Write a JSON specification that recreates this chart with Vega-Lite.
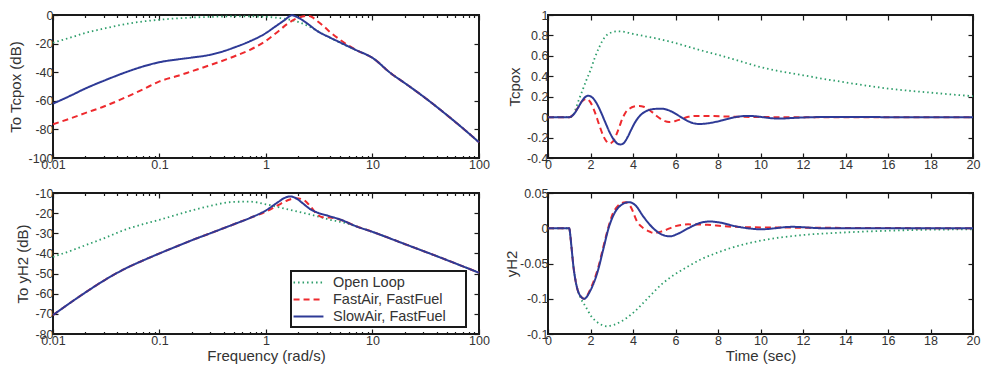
{
"$schema":"https://vega.github.io/schema/vega-lite/v6.json",
"background":"white",
"padding":{"left":7,"top":8,"right":0,"bottom":0},
"config":{
 "locale":{"number":{"decimal":".","thousands":",","grouping":[3],"currency":["$",""],"minus":"-"}},
 "font":"Liberation Sans",
 "view":{"stroke":"#1a1a1a","strokeWidth":2},
 "axis":{"grid":false,"domain":false,"tickColor":"#1a1a1a","tickWidth":1.2,"tickSize":-5,"labelFont":"Liberation Sans","labelFontSize":12.5,"labelColor":"#333","labelPadding":5,"labelFlush":false,"labelOverlap":false,"titleFont":"Liberation Sans","titleFontSize":15,"titleFontWeight":"normal","titleColor":"#333","titlePadding":4}
},
"resolve":{"scale":{"color":"independent","strokeDash":"independent"}},
"columns":2,
"spacing":{"row":35,"column":69},
"bounds":"flush",
"concat":[
{
 "width":426,"height":143,
 "data":{"values":[
{"s":"Open Loop","f":0.01,"y":-19.4},{"s":"Open Loop","f":0.015,"y":-15.5},{"s":"Open Loop","f":0.02,"y":-12.6},{"s":"Open Loop","f":0.03,"y":-9.5},{"s":"Open Loop","f":0.05,"y":-6.1},{"s":"Open Loop","f":0.07,"y":-4.5},{"s":"Open Loop","f":0.1,"y":-3.3},{"s":"Open Loop","f":0.15,"y":-2.3},{"s":"Open Loop","f":0.2,"y":-1.8},{"s":"Open Loop","f":0.3,"y":-1.3},{"s":"Open Loop","f":0.5,"y":-1},{"s":"Open Loop","f":0.7,"y":-1},{"s":"Open Loop","f":1,"y":-1.3},{"s":"Open Loop","f":1.3,"y":-2},{"s":"Open Loop","f":1.6,"y":-3},{"s":"Open Loop","f":2,"y":-4.8},{"s":"Open Loop","f":2.5,"y":-7.8},{"s":"Open Loop","f":3,"y":-11},{"s":"Open Loop","f":4,"y":-16},{"s":"Open Loop","f":5,"y":-19.5},{"s":"Open Loop","f":7,"y":-24.5},{"s":"Open Loop","f":10,"y":-30},{"s":"Open Loop","f":15,"y":-41},{"s":"Open Loop","f":20,"y":-47.5},{"s":"Open Loop","f":30,"y":-57},{"s":"Open Loop","f":50,"y":-70},{"s":"Open Loop","f":70,"y":-79},{"s":"Open Loop","f":100,"y":-89},
{"s":"FastAir, FastFuel","f":0.01,"y":-76.4},{"s":"FastAir, FastFuel","f":0.015,"y":-72},{"s":"FastAir, FastFuel","f":0.02,"y":-68.6},{"s":"FastAir, FastFuel","f":0.03,"y":-64},{"s":"FastAir, FastFuel","f":0.05,"y":-57},{"s":"FastAir, FastFuel","f":0.07,"y":-52},{"s":"FastAir, FastFuel","f":0.1,"y":-46.4},{"s":"FastAir, FastFuel","f":0.15,"y":-42.5},{"s":"FastAir, FastFuel","f":0.2,"y":-39.4},{"s":"FastAir, FastFuel","f":0.3,"y":-35},{"s":"FastAir, FastFuel","f":0.5,"y":-29},{"s":"FastAir, FastFuel","f":0.7,"y":-24.5},{"s":"FastAir, FastFuel","f":1,"y":-18},{"s":"FastAir, FastFuel","f":1.3,"y":-11.5},{"s":"FastAir, FastFuel","f":1.6,"y":-6},{"s":"FastAir, FastFuel","f":1.9,"y":-2.7},{"s":"FastAir, FastFuel","f":2.2,"y":-1.1},{"s":"FastAir, FastFuel","f":2.45,"y":-0.6},{"s":"FastAir, FastFuel","f":2.7,"y":-1.4},{"s":"FastAir, FastFuel","f":3,"y":-4},{"s":"FastAir, FastFuel","f":3.5,"y":-8},{"s":"FastAir, FastFuel","f":4,"y":-12},{"s":"FastAir, FastFuel","f":5,"y":-17.5},{"s":"FastAir, FastFuel","f":7,"y":-24.5},{"s":"FastAir, FastFuel","f":10,"y":-30},{"s":"FastAir, FastFuel","f":15,"y":-41},{"s":"FastAir, FastFuel","f":20,"y":-47.5},{"s":"FastAir, FastFuel","f":30,"y":-57},{"s":"FastAir, FastFuel","f":50,"y":-70},{"s":"FastAir, FastFuel","f":70,"y":-79},{"s":"FastAir, FastFuel","f":100,"y":-89},
{"s":"SlowAir, FastFuel","f":0.01,"y":-62},{"s":"SlowAir, FastFuel","f":0.015,"y":-56},{"s":"SlowAir, FastFuel","f":0.02,"y":-51.5},{"s":"SlowAir, FastFuel","f":0.03,"y":-46},{"s":"SlowAir, FastFuel","f":0.05,"y":-39.6},{"s":"SlowAir, FastFuel","f":0.07,"y":-36},{"s":"SlowAir, FastFuel","f":0.1,"y":-33},{"s":"SlowAir, FastFuel","f":0.15,"y":-31},{"s":"SlowAir, FastFuel","f":0.2,"y":-29.8},{"s":"SlowAir, FastFuel","f":0.3,"y":-27.8},{"s":"SlowAir, FastFuel","f":0.4,"y":-25.3},{"s":"SlowAir, FastFuel","f":0.5,"y":-22.8},{"s":"SlowAir, FastFuel","f":0.7,"y":-18.5},{"s":"SlowAir, FastFuel","f":1,"y":-12.6},{"s":"SlowAir, FastFuel","f":1.2,"y":-8.5},{"s":"SlowAir, FastFuel","f":1.5,"y":-3.5},{"s":"SlowAir, FastFuel","f":1.75,"y":-0.2},{"s":"SlowAir, FastFuel","f":2,"y":-1.8},{"s":"SlowAir, FastFuel","f":2.5,"y":-6.5},{"s":"SlowAir, FastFuel","f":3,"y":-11},{"s":"SlowAir, FastFuel","f":4,"y":-15.8},{"s":"SlowAir, FastFuel","f":5,"y":-19.3},{"s":"SlowAir, FastFuel","f":7,"y":-24.5},{"s":"SlowAir, FastFuel","f":10,"y":-30},{"s":"SlowAir, FastFuel","f":15,"y":-41},{"s":"SlowAir, FastFuel","f":20,"y":-47.5},{"s":"SlowAir, FastFuel","f":30,"y":-57},{"s":"SlowAir, FastFuel","f":50,"y":-70},{"s":"SlowAir, FastFuel","f":70,"y":-79},{"s":"SlowAir, FastFuel","f":100,"y":-89}
 ]},
 "layer":[
  {"transform":[{"filter":"datum.s==='Open Loop'"}],"mark":{"type":"line","strokeWidth":1.8,"interpolate":"monotone"},
   "encoding":{
    "x":{"field":"f","type":"quantitative","scale":{"type":"log","domain":[0.01,100],"nice":false},"axis":{"orient":"bottom","values":[0.01,0.1,1,10,100],"format":"~g","title":null}},
    "y":{"field":"y","type":"quantitative","scale":{"domain":[-100,0],"nice":false,"zero":false},"axis":{"orient":"left","values":[-100,-80,-60,-40,-20,0],"title":"To Tcpox (dB)"}},
    "color":{"field":"s","type":"nominal","scale":{"domain":["Open Loop","FastAir, FastFuel","SlowAir, FastFuel"],"range":["#2e9e6b","#ee2a2e","#2e3a96"]},"legend":null},
    "strokeDash":{"field":"s","type":"nominal","scale":{"domain":["Open Loop","FastAir, FastFuel","SlowAir, FastFuel"],"range":[[1.5,3],[6,4],[1,0]]},"legend":null}}},
  {"transform":[{"filter":"datum.s==='FastAir, FastFuel'"}],"mark":{"type":"line","strokeWidth":2,"interpolate":"monotone"},
   "encoding":{
    "x":{"field":"f","type":"quantitative","axis":{"orient":"top","values":[0.01,0.1,1,10,100],"labels":false,"title":null}},
    "y":{"field":"y","type":"quantitative","axis":{"orient":"right","values":[-100,-80,-60,-40,-20,0],"labels":false,"title":null}},
    "color":{"field":"s","type":"nominal","legend":null},
    "strokeDash":{"field":"s","type":"nominal","legend":null}}},
  {"transform":[{"filter":"datum.s==='SlowAir, FastFuel'"}],"mark":{"type":"line","strokeWidth":2,"interpolate":"monotone"},
   "encoding":{
    "x":{"field":"f","type":"quantitative","axis":{"orient":"bottom","values":[0.02,0.03,0.04,0.05,0.06,0.07,0.08,0.09,0.2,0.3,0.4,0.5,0.6,0.7,0.8,0.9,2,3,4,5,6,7,8,9,20,30,40,50,60,70,80,90],"labels":false,"tickSize":-2.5,"title":null}},
    "y":{"field":"y","type":"quantitative","axis":null},
    "color":{"field":"s","type":"nominal","legend":null},
    "strokeDash":{"field":"s","type":"nominal","legend":null}}},
  {"transform":[{"filter":"datum.s==='Open Loop'"}],"mark":{"type":"line","strokeOpacity":0},
   "encoding":{
    "x":{"field":"f","type":"quantitative","axis":{"orient":"top","values":[0.02,0.03,0.04,0.05,0.06,0.07,0.08,0.09,0.2,0.3,0.4,0.5,0.6,0.7,0.8,0.9,2,3,4,5,6,7,8,9,20,30,40,50,60,70,80,90],"labels":false,"tickSize":-2.5,"title":null}},
    "y":{"field":"y","type":"quantitative","axis":null}}}
 ],
 "resolve":{"axis":{"x":"independent","y":"independent"}}
},
{
 "width":425,"height":143,
 "data":{"values":[
{"s":"Open Loop","t":0,"y":0},{"s":"Open Loop","t":1.1,"y":0},{"s":"Open Loop","t":1.2,"y":0.03},{"s":"Open Loop","t":1.3,"y":0.08},{"s":"Open Loop","t":1.4,"y":0.14},{"s":"Open Loop","t":1.6,"y":0.25},{"s":"Open Loop","t":1.8,"y":0.36},{"s":"Open Loop","t":2.0,"y":0.46},{"s":"Open Loop","t":2.2,"y":0.58},{"s":"Open Loop","t":2.4,"y":0.68},{"s":"Open Loop","t":2.7,"y":0.79},{"s":"Open Loop","t":3.0,"y":0.83},{"s":"Open Loop","t":3.3,"y":0.84},{"s":"Open Loop","t":3.6,"y":0.835},{"s":"Open Loop","t":4,"y":0.815},{"s":"Open Loop","t":5,"y":0.775},{"s":"Open Loop","t":6,"y":0.725},{"s":"Open Loop","t":7,"y":0.665},{"s":"Open Loop","t":8,"y":0.61},{"s":"Open Loop","t":9,"y":0.55},{"s":"Open Loop","t":10,"y":0.49},{"s":"Open Loop","t":12,"y":0.41},{"s":"Open Loop","t":14,"y":0.34},{"s":"Open Loop","t":16,"y":0.28},{"s":"Open Loop","t":18,"y":0.24},{"s":"Open Loop","t":20,"y":0.205},
{"s":"FastAir, FastFuel","t":0,"y":0},{"s":"FastAir, FastFuel","t":1.0,"y":0},{"s":"FastAir, FastFuel","t":1.2,"y":0.026},{"s":"FastAir, FastFuel","t":1.4,"y":0.09},{"s":"FastAir, FastFuel","t":1.6,"y":0.154},{"s":"FastAir, FastFuel","t":1.8,"y":0.18},{"s":"FastAir, FastFuel","t":2.0,"y":0.145},{"s":"FastAir, FastFuel","t":2.2,"y":0.052},{"s":"FastAir, FastFuel","t":2.4,"y":-0.07},{"s":"FastAir, FastFuel","t":2.6,"y":-0.182},{"s":"FastAir, FastFuel","t":2.75,"y":-0.237},{"s":"FastAir, FastFuel","t":2.9,"y":-0.257},{"s":"FastAir, FastFuel","t":3.05,"y":-0.24},{"s":"FastAir, FastFuel","t":3.2,"y":-0.18},{"s":"FastAir, FastFuel","t":3.35,"y":-0.1},{"s":"FastAir, FastFuel","t":3.5,"y":-0.015},{"s":"FastAir, FastFuel","t":3.65,"y":0.045},{"s":"FastAir, FastFuel","t":3.85,"y":0.085},{"s":"FastAir, FastFuel","t":4.05,"y":0.104},{"s":"FastAir, FastFuel","t":4.3,"y":0.11},{"s":"FastAir, FastFuel","t":4.5,"y":0.102},{"s":"FastAir, FastFuel","t":4.7,"y":0.08},{"s":"FastAir, FastFuel","t":4.9,"y":0.049},{"s":"FastAir, FastFuel","t":5.1,"y":0.014},{"s":"FastAir, FastFuel","t":5.3,"y":-0.017},{"s":"FastAir, FastFuel","t":5.5,"y":-0.039},{"s":"FastAir, FastFuel","t":5.7,"y":-0.047},{"s":"FastAir, FastFuel","t":6.0,"y":-0.038},{"s":"FastAir, FastFuel","t":6.3,"y":-0.0175},{"s":"FastAir, FastFuel","t":6.6,"y":0.003},{"s":"FastAir, FastFuel","t":6.9,"y":0.012},{"s":"FastAir, FastFuel","t":7.8,"y":0.01},{"s":"FastAir, FastFuel","t":8.5,"y":0.006},{"s":"FastAir, FastFuel","t":9.5,"y":0.002},{"s":"FastAir, FastFuel","t":11,"y":0},{"s":"FastAir, FastFuel","t":20,"y":0},
{"s":"SlowAir, FastFuel","t":0,"y":0},{"s":"SlowAir, FastFuel","t":1.0,"y":0},{"s":"SlowAir, FastFuel","t":1.2,"y":0.025},{"s":"SlowAir, FastFuel","t":1.4,"y":0.087},{"s":"SlowAir, FastFuel","t":1.6,"y":0.158},{"s":"SlowAir, FastFuel","t":1.75,"y":0.196},{"s":"SlowAir, FastFuel","t":1.9,"y":0.21},{"s":"SlowAir, FastFuel","t":2.1,"y":0.189},{"s":"SlowAir, FastFuel","t":2.3,"y":0.131},{"s":"SlowAir, FastFuel","t":2.5,"y":0.045},{"s":"SlowAir, FastFuel","t":2.7,"y":-0.053},{"s":"SlowAir, FastFuel","t":2.9,"y":-0.148},{"s":"SlowAir, FastFuel","t":3.1,"y":-0.221},{"s":"SlowAir, FastFuel","t":3.3,"y":-0.262},{"s":"SlowAir, FastFuel","t":3.42,"y":-0.267},{"s":"SlowAir, FastFuel","t":3.55,"y":-0.257},{"s":"SlowAir, FastFuel","t":3.76,"y":-0.19},{"s":"SlowAir, FastFuel","t":3.9,"y":-0.13},{"s":"SlowAir, FastFuel","t":4.08,"y":-0.057},{"s":"SlowAir, FastFuel","t":4.2,"y":-0.018},{"s":"SlowAir, FastFuel","t":4.39,"y":0.027},{"s":"SlowAir, FastFuel","t":4.7,"y":0.066},{"s":"SlowAir, FastFuel","t":5.0,"y":0.08},{"s":"SlowAir, FastFuel","t":5.3,"y":0.083},{"s":"SlowAir, FastFuel","t":5.6,"y":0.073},{"s":"SlowAir, FastFuel","t":5.9,"y":0.0455},{"s":"SlowAir, FastFuel","t":6.2,"y":0.008},{"s":"SlowAir, FastFuel","t":6.5,"y":-0.0295},{"s":"SlowAir, FastFuel","t":6.8,"y":-0.057},{"s":"SlowAir, FastFuel","t":7.1,"y":-0.067},{"s":"SlowAir, FastFuel","t":7.5,"y":-0.061},{"s":"SlowAir, FastFuel","t":7.9,"y":-0.046},{"s":"SlowAir, FastFuel","t":8.3,"y":-0.025},{"s":"SlowAir, FastFuel","t":8.7,"y":-0.005},{"s":"SlowAir, FastFuel","t":9.05,"y":0.0075},{"s":"SlowAir, FastFuel","t":9.4,"y":0.012},{"s":"SlowAir, FastFuel","t":9.75,"y":0.0085},{"s":"SlowAir, FastFuel","t":10.1,"y":0},{"s":"SlowAir, FastFuel","t":10.5,"y":-0.01},{"s":"SlowAir, FastFuel","t":10.9,"y":-0.014},{"s":"SlowAir, FastFuel","t":11.6,"y":-0.007},{"s":"SlowAir, FastFuel","t":12.5,"y":0},{"s":"SlowAir, FastFuel","t":14,"y":0.002},{"s":"SlowAir, FastFuel","t":16,"y":0},{"s":"SlowAir, FastFuel","t":20,"y":0}
 ]},
 "layer":[
  {"transform":[{"filter":"datum.s==='Open Loop'"}],"mark":{"type":"line","strokeWidth":1.8,"interpolate":"monotone"},
   "encoding":{
    "x":{"field":"t","type":"quantitative","scale":{"domain":[0,20],"nice":false},"axis":{"orient":"bottom","values":[0,2,4,6,8,10,12,14,16,18,20],"title":null}},
    "y":{"field":"y","type":"quantitative","scale":{"domain":[-0.4,1],"nice":false,"zero":false},"axis":{"orient":"left","values":[-0.4,-0.2,0,0.2,0.4,0.6,0.8,1],"format":"~g","title":"Tcpox"}},
    "color":{"field":"s","type":"nominal","scale":{"domain":["Open Loop","FastAir, FastFuel","SlowAir, FastFuel"],"range":["#2e9e6b","#ee2a2e","#2e3a96"]},"legend":null},
    "strokeDash":{"field":"s","type":"nominal","scale":{"domain":["Open Loop","FastAir, FastFuel","SlowAir, FastFuel"],"range":[[1.5,3],[6,4],[1,0]]},"legend":null}}},
  {"transform":[{"filter":"datum.s==='FastAir, FastFuel'"}],"mark":{"type":"line","strokeWidth":2,"interpolate":"monotone"},
   "encoding":{
    "x":{"field":"t","type":"quantitative","axis":{"orient":"top","values":[0,2,4,6,8,10,12,14,16,18,20],"labels":false,"title":null}},
    "y":{"field":"y","type":"quantitative","axis":{"orient":"right","values":[-0.4,-0.2,0,0.2,0.4,0.6,0.8,1],"labels":false,"title":null}},
    "color":{"field":"s","type":"nominal","legend":null},
    "strokeDash":{"field":"s","type":"nominal","legend":null}}},
  {"transform":[{"filter":"datum.s==='SlowAir, FastFuel'"}],"mark":{"type":"line","strokeWidth":2,"interpolate":"monotone"},
   "encoding":{
    "x":{"field":"t","type":"quantitative","axis":null},
    "y":{"field":"y","type":"quantitative","axis":null},
    "color":{"field":"s","type":"nominal","legend":null},
    "strokeDash":{"field":"s","type":"nominal","legend":null}}}
 ],
 "resolve":{"axis":{"x":"independent","y":"independent"}}
},
{
 "width":426,"height":141,
 "data":{"values":[
{"s":"Open Loop","f":0.01,"y":-41.7},{"s":"Open Loop","f":0.015,"y":-38.5},{"s":"Open Loop","f":0.02,"y":-36},{"s":"Open Loop","f":0.03,"y":-32.5},{"s":"Open Loop","f":0.05,"y":-27.8},{"s":"Open Loop","f":0.07,"y":-25.5},{"s":"Open Loop","f":0.1,"y":-23.3},{"s":"Open Loop","f":0.15,"y":-20.6},{"s":"Open Loop","f":0.2,"y":-18.7},{"s":"Open Loop","f":0.3,"y":-16.4},{"s":"Open Loop","f":0.5,"y":-14.4},{"s":"Open Loop","f":0.7,"y":-14.3},{"s":"Open Loop","f":1,"y":-15.6},{"s":"Open Loop","f":1.5,"y":-17.8},{"s":"Open Loop","f":2,"y":-19.3},{"s":"Open Loop","f":3,"y":-21.5},{"s":"Open Loop","f":4,"y":-23.3},{"s":"Open Loop","f":5,"y":-24.3},{"s":"Open Loop","f":7,"y":-26.5},{"s":"Open Loop","f":10,"y":-29.3},{"s":"Open Loop","f":20,"y":-35.3},{"s":"Open Loop","f":50,"y":-43.3},{"s":"Open Loop","f":100,"y":-49.6},
{"s":"FastAir, FastFuel","f":0.01,"y":-70.6},{"s":"FastAir, FastFuel","f":0.015,"y":-64},{"s":"FastAir, FastFuel","f":0.02,"y":-59.5},{"s":"FastAir, FastFuel","f":0.03,"y":-53.5},{"s":"FastAir, FastFuel","f":0.05,"y":-47},{"s":"FastAir, FastFuel","f":0.07,"y":-43.5},{"s":"FastAir, FastFuel","f":0.1,"y":-40},{"s":"FastAir, FastFuel","f":0.15,"y":-36.2},{"s":"FastAir, FastFuel","f":0.2,"y":-33.5},{"s":"FastAir, FastFuel","f":0.3,"y":-30},{"s":"FastAir, FastFuel","f":0.5,"y":-25.5},{"s":"FastAir, FastFuel","f":0.7,"y":-22.5},{"s":"FastAir, FastFuel","f":1,"y":-19.2},{"s":"FastAir, FastFuel","f":1.3,"y":-16},{"s":"FastAir, FastFuel","f":1.6,"y":-13.6},{"s":"FastAir, FastFuel","f":1.9,"y":-12.6},{"s":"FastAir, FastFuel","f":2.2,"y":-13.1},{"s":"FastAir, FastFuel","f":2.6,"y":-16.5},{"s":"FastAir, FastFuel","f":3,"y":-20.5},{"s":"FastAir, FastFuel","f":3.4,"y":-22},{"s":"FastAir, FastFuel","f":4,"y":-22.2},{"s":"FastAir, FastFuel","f":5,"y":-23.3},{"s":"FastAir, FastFuel","f":7,"y":-26.5},{"s":"FastAir, FastFuel","f":10,"y":-29.3},{"s":"FastAir, FastFuel","f":20,"y":-35.3},{"s":"FastAir, FastFuel","f":50,"y":-43.3},{"s":"FastAir, FastFuel","f":100,"y":-49.6},
{"s":"SlowAir, FastFuel","f":0.01,"y":-70.6},{"s":"SlowAir, FastFuel","f":0.015,"y":-64},{"s":"SlowAir, FastFuel","f":0.02,"y":-59.5},{"s":"SlowAir, FastFuel","f":0.03,"y":-53.5},{"s":"SlowAir, FastFuel","f":0.05,"y":-47},{"s":"SlowAir, FastFuel","f":0.07,"y":-43.5},{"s":"SlowAir, FastFuel","f":0.1,"y":-40},{"s":"SlowAir, FastFuel","f":0.15,"y":-36.2},{"s":"SlowAir, FastFuel","f":0.2,"y":-33.5},{"s":"SlowAir, FastFuel","f":0.3,"y":-30},{"s":"SlowAir, FastFuel","f":0.5,"y":-25.5},{"s":"SlowAir, FastFuel","f":0.7,"y":-22.5},{"s":"SlowAir, FastFuel","f":1,"y":-18.6},{"s":"SlowAir, FastFuel","f":1.3,"y":-14.5},{"s":"SlowAir, FastFuel","f":1.5,"y":-12.4},{"s":"SlowAir, FastFuel","f":1.67,"y":-11.7},{"s":"SlowAir, FastFuel","f":1.9,"y":-12.5},{"s":"SlowAir, FastFuel","f":2.2,"y":-15},{"s":"SlowAir, FastFuel","f":2.6,"y":-18},{"s":"SlowAir, FastFuel","f":3,"y":-19.6},{"s":"SlowAir, FastFuel","f":4,"y":-21.6},{"s":"SlowAir, FastFuel","f":5,"y":-23.2},{"s":"SlowAir, FastFuel","f":7,"y":-26.5},{"s":"SlowAir, FastFuel","f":10,"y":-29.3},{"s":"SlowAir, FastFuel","f":20,"y":-35.3},{"s":"SlowAir, FastFuel","f":50,"y":-43.3},{"s":"SlowAir, FastFuel","f":100,"y":-49.6}
 ]},
 "layer":[
  {"transform":[{"filter":"datum.s==='Open Loop'"}],"mark":{"type":"line","strokeWidth":1.8,"interpolate":"monotone"},
   "encoding":{
    "x":{"field":"f","type":"quantitative","scale":{"type":"log","domain":[0.01,100],"nice":false},"axis":{"orient":"bottom","values":[0.01,0.1,1,10,100],"format":"~g","title":"Frequency (rad/s)","titlePadding":2}},
    "y":{"field":"y","type":"quantitative","scale":{"domain":[-80,-10],"nice":false,"zero":false},"axis":{"orient":"left","values":[-80,-70,-60,-50,-40,-30,-20,-10],"title":"To yH2 (dB)"}},
    "color":{"field":"s","type":"nominal","scale":{"domain":["Open Loop","FastAir, FastFuel","SlowAir, FastFuel"],"range":["#2e9e6b","#ee2a2e","#2e3a96"]},
      "legend":{"orient":"none","legendX":238,"legendY":78,"title":null,"strokeColor":"#1a1a1a","fillColor":"white","padding":4,"symbolType":"M-2.3,0H2.3","symbolSize":169,"symbolOffset":6,"symbolStrokeWidth":2,"labelFontSize":14.5,"labelFont":"Liberation Sans","labelColor":"#333","labelOffset":17,"rowPadding":2,"labelExpr":"datum.label + '\u00a0\u00a0\u00a0\u00a0\u200b'","encode":{"legend":{"update":{"strokeWidth":{"value":2}}}}}},
    "strokeDash":{"field":"s","type":"nominal","scale":{"domain":["Open Loop","FastAir, FastFuel","SlowAir, FastFuel"],"range":[[1.5,3],[6,4],[1,0]]},
      "legend":{"orient":"none","legendX":238,"legendY":78,"title":null,"strokeColor":"#1a1a1a","fillColor":"white","padding":4,"symbolType":"M-2.3,0H2.3","symbolSize":169,"symbolOffset":6,"symbolStrokeWidth":2,"labelFontSize":14.5,"labelFont":"Liberation Sans","labelColor":"#333","labelOffset":17,"rowPadding":2,"labelExpr":"datum.label + '\u00a0\u00a0\u00a0\u00a0\u200b'","encode":{"legend":{"update":{"strokeWidth":{"value":2}}}}}}}},
  {"transform":[{"filter":"datum.s==='FastAir, FastFuel'"}],"mark":{"type":"line","strokeWidth":2,"interpolate":"monotone"},
   "encoding":{
    "x":{"field":"f","type":"quantitative","axis":{"orient":"top","values":[0.01,0.1,1,10,100],"labels":false,"title":null}},
    "y":{"field":"y","type":"quantitative","axis":{"orient":"right","values":[-80,-70,-60,-50,-40,-30,-20,-10],"labels":false,"title":null}},
    "color":{"field":"s","type":"nominal"},
    "strokeDash":{"field":"s","type":"nominal"}}},
  {"transform":[{"filter":"datum.s==='SlowAir, FastFuel'"}],"mark":{"type":"line","strokeWidth":2,"interpolate":"monotone"},
   "encoding":{
    "x":{"field":"f","type":"quantitative","axis":{"orient":"bottom","values":[0.02,0.03,0.04,0.05,0.06,0.07,0.08,0.09,0.2,0.3,0.4,0.5,0.6,0.7,0.8,0.9,2,3,4,5,6,7,8,9,20,30,40,50,60,70,80,90],"labels":false,"tickSize":-2.5,"title":null}},
    "y":{"field":"y","type":"quantitative","axis":null},
    "color":{"field":"s","type":"nominal"},
    "strokeDash":{"field":"s","type":"nominal"}}},
  {"transform":[{"filter":"datum.s==='Open Loop'"}],"mark":{"type":"line","strokeOpacity":0},
   "encoding":{
    "x":{"field":"f","type":"quantitative","axis":{"orient":"top","values":[0.02,0.03,0.04,0.05,0.06,0.07,0.08,0.09,0.2,0.3,0.4,0.5,0.6,0.7,0.8,0.9,2,3,4,5,6,7,8,9,20,30,40,50,60,70,80,90],"labels":false,"tickSize":-2.5,"title":null}},
    "y":{"field":"y","type":"quantitative","axis":null}}}
 ],
 "resolve":{"axis":{"x":"independent","y":"independent"}}
},
{
 "width":425,"height":141,
 "data":{"values":[
{"s":"Open Loop","t":0,"y":0},{"s":"Open Loop","t":1.0,"y":0},{"s":"Open Loop","t":1.05,"y":-0.01},{"s":"Open Loop","t":1.1,"y":-0.025},{"s":"Open Loop","t":1.2,"y":-0.055},{"s":"Open Loop","t":1.3,"y":-0.075},{"s":"Open Loop","t":1.4,"y":-0.088},{"s":"Open Loop","t":1.55,"y":-0.1},{"s":"Open Loop","t":1.75,"y":-0.11},{"s":"Open Loop","t":2.04,"y":-0.125},{"s":"Open Loop","t":2.4,"y":-0.135},{"s":"Open Loop","t":2.75,"y":-0.139},{"s":"Open Loop","t":3.1,"y":-0.137},{"s":"Open Loop","t":3.45,"y":-0.132},{"s":"Open Loop","t":4.08,"y":-0.118},{"s":"Open Loop","t":4.7,"y":-0.099},{"s":"Open Loop","t":5.33,"y":-0.08},{"s":"Open Loop","t":5.96,"y":-0.0655},{"s":"Open Loop","t":6.6,"y":-0.054},{"s":"Open Loop","t":7.2,"y":-0.044},{"s":"Open Loop","t":7.85,"y":-0.036},{"s":"Open Loop","t":8.5,"y":-0.029},{"s":"Open Loop","t":9.2,"y":-0.023},{"s":"Open Loop","t":10,"y":-0.0176},{"s":"Open Loop","t":12,"y":-0.0096},{"s":"Open Loop","t":14,"y":-0.0059},{"s":"Open Loop","t":16,"y":-0.0035},{"s":"Open Loop","t":18,"y":-0.002},{"s":"Open Loop","t":20,"y":-0.0016},
{"s":"FastAir, FastFuel","t":0,"y":0},{"s":"FastAir, FastFuel","t":1.0,"y":0},{"s":"FastAir, FastFuel","t":1.05,"y":-0.01},{"s":"FastAir, FastFuel","t":1.1,"y":-0.025},{"s":"FastAir, FastFuel","t":1.2,"y":-0.055},{"s":"FastAir, FastFuel","t":1.3,"y":-0.075},{"s":"FastAir, FastFuel","t":1.4,"y":-0.088},{"s":"FastAir, FastFuel","t":1.55,"y":-0.097},{"s":"FastAir, FastFuel","t":1.7,"y":-0.1},{"s":"FastAir, FastFuel","t":2.0,"y":-0.086},{"s":"FastAir, FastFuel","t":2.35,"y":-0.057},{"s":"FastAir, FastFuel","t":2.6,"y":-0.027},{"s":"FastAir, FastFuel","t":2.8,"y":-0.003},{"s":"FastAir, FastFuel","t":3.0,"y":0.017},{"s":"FastAir, FastFuel","t":3.3,"y":0.032},{"s":"FastAir, FastFuel","t":3.64,"y":0.037},{"s":"FastAir, FastFuel","t":3.9,"y":0.03},{"s":"FastAir, FastFuel","t":4.2,"y":0.009},{"s":"FastAir, FastFuel","t":4.5,"y":0},{"s":"FastAir, FastFuel","t":4.8,"y":-0.005},{"s":"FastAir, FastFuel","t":5.0,"y":-0.0068},{"s":"FastAir, FastFuel","t":5.4,"y":-0.004},{"s":"FastAir, FastFuel","t":6.0,"y":0.003},{"s":"FastAir, FastFuel","t":6.6,"y":0.0055},{"s":"FastAir, FastFuel","t":7.5,"y":0.005},{"s":"FastAir, FastFuel","t":8.2,"y":0.003},{"s":"FastAir, FastFuel","t":9.4,"y":0.0015},{"s":"FastAir, FastFuel","t":12,"y":0.0008},{"s":"FastAir, FastFuel","t":20,"y":0},
{"s":"SlowAir, FastFuel","t":0,"y":0},{"s":"SlowAir, FastFuel","t":1.0,"y":0},{"s":"SlowAir, FastFuel","t":1.05,"y":-0.01},{"s":"SlowAir, FastFuel","t":1.1,"y":-0.025},{"s":"SlowAir, FastFuel","t":1.2,"y":-0.055},{"s":"SlowAir, FastFuel","t":1.3,"y":-0.075},{"s":"SlowAir, FastFuel","t":1.4,"y":-0.088},{"s":"SlowAir, FastFuel","t":1.55,"y":-0.097},{"s":"SlowAir, FastFuel","t":1.7,"y":-0.1},{"s":"SlowAir, FastFuel","t":2.0,"y":-0.088},{"s":"SlowAir, FastFuel","t":2.35,"y":-0.06},{"s":"SlowAir, FastFuel","t":2.6,"y":-0.03},{"s":"SlowAir, FastFuel","t":2.85,"y":0},{"s":"SlowAir, FastFuel","t":3.14,"y":0.022},{"s":"SlowAir, FastFuel","t":3.5,"y":0.034},{"s":"SlowAir, FastFuel","t":3.8,"y":0.037},{"s":"SlowAir, FastFuel","t":4.1,"y":0.033},{"s":"SlowAir, FastFuel","t":4.5,"y":0.016},{"s":"SlowAir, FastFuel","t":4.95,"y":0},{"s":"SlowAir, FastFuel","t":5.3,"y":-0.008},{"s":"SlowAir, FastFuel","t":5.73,"y":-0.0115},{"s":"SlowAir, FastFuel","t":6.1,"y":-0.008},{"s":"SlowAir, FastFuel","t":6.6,"y":0},{"s":"SlowAir, FastFuel","t":7.1,"y":0.007},{"s":"SlowAir, FastFuel","t":7.6,"y":0.0096},{"s":"SlowAir, FastFuel","t":8.1,"y":0.008},{"s":"SlowAir, FastFuel","t":8.8,"y":0.003},{"s":"SlowAir, FastFuel","t":9.4,"y":0},{"s":"SlowAir, FastFuel","t":10,"y":-0.0015},{"s":"SlowAir, FastFuel","t":11.5,"y":0.002},{"s":"SlowAir, FastFuel","t":13,"y":0},{"s":"SlowAir, FastFuel","t":20,"y":0}
 ]},
 "layer":[
  {"transform":[{"filter":"datum.s==='Open Loop'"}],"mark":{"type":"line","strokeWidth":1.8,"interpolate":"monotone"},
   "encoding":{
    "x":{"field":"t","type":"quantitative","scale":{"domain":[0,20],"nice":false},"axis":{"orient":"bottom","values":[0,2,4,6,8,10,12,14,16,18,20],"title":"Time (sec)","titlePadding":2}},
    "y":{"field":"y","type":"quantitative","scale":{"domain":[-0.15,0.05],"nice":false,"zero":false},"axis":{"orient":"left","values":[-0.15,-0.1,-0.05,0,0.05],"format":"~g","title":"yH2","titlePadding":0}},
    "color":{"field":"s","type":"nominal","scale":{"domain":["Open Loop","FastAir, FastFuel","SlowAir, FastFuel"],"range":["#2e9e6b","#ee2a2e","#2e3a96"]},"legend":null},
    "strokeDash":{"field":"s","type":"nominal","scale":{"domain":["Open Loop","FastAir, FastFuel","SlowAir, FastFuel"],"range":[[1.5,3],[6,4],[1,0]]},"legend":null}}},
  {"transform":[{"filter":"datum.s==='FastAir, FastFuel'"}],"mark":{"type":"line","strokeWidth":2,"interpolate":"monotone"},
   "encoding":{
    "x":{"field":"t","type":"quantitative","axis":{"orient":"top","values":[0,2,4,6,8,10,12,14,16,18,20],"labels":false,"title":null}},
    "y":{"field":"y","type":"quantitative","axis":{"orient":"right","values":[-0.15,-0.1,-0.05,0,0.05],"labels":false,"title":null}},
    "color":{"field":"s","type":"nominal","legend":null},
    "strokeDash":{"field":"s","type":"nominal","legend":null}}},
  {"transform":[{"filter":"datum.s==='SlowAir, FastFuel'"}],"mark":{"type":"line","strokeWidth":2,"interpolate":"monotone"},
   "encoding":{
    "x":{"field":"t","type":"quantitative","axis":null},
    "y":{"field":"y","type":"quantitative","axis":null},
    "color":{"field":"s","type":"nominal","legend":null},
    "strokeDash":{"field":"s","type":"nominal","legend":null}}}
 ],
 "resolve":{"axis":{"x":"independent","y":"independent"}}
}
]
}
